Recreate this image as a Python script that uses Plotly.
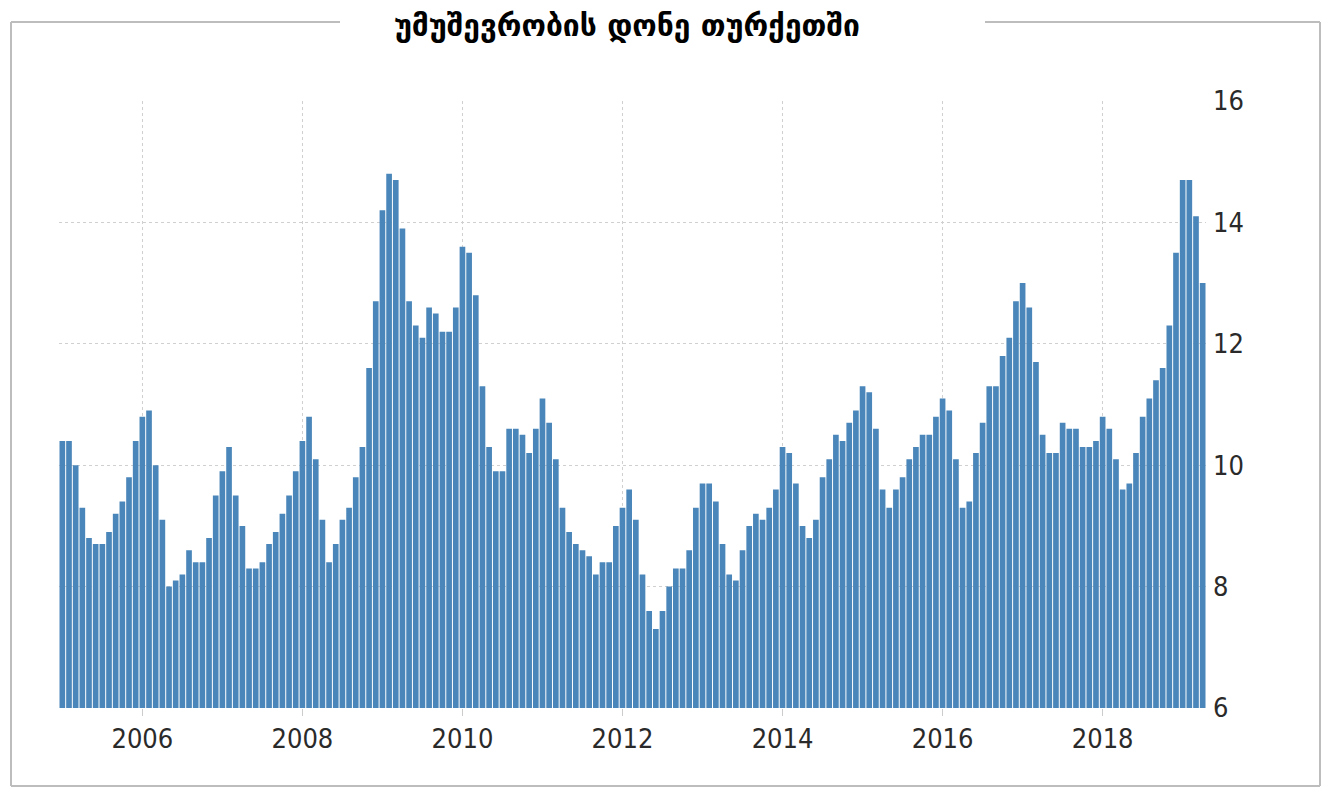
import plotly.graph_objects as go

title_text = "უმუშევრობის დონე თურქეთში"

years = [2005, 2006, 2007, 2008, 2009, 2010, 2011, 2012, 2013, 2014, 2015, 2016, 2017, 2018, 2019]

v2005 = [10.4, 10.4, 10.0, 9.3, 8.8, 8.7, 8.7, 8.9, 9.2, 9.4, 9.8, 10.4]
v2006 = [10.8, 10.9, 10.0, 9.1, 8.0, 8.1, 8.2, 8.6, 8.4, 8.4, 8.8, 9.5]
v2007 = [9.9, 10.3, 9.5, 9.0, 8.3, 8.3, 8.4, 8.7, 8.9, 9.2, 9.5, 9.9]
v2008 = [10.4, 10.8, 10.1, 9.1, 8.4, 8.7, 9.1, 9.3, 9.8, 10.3, 11.6, 12.7]
v2009 = [14.2, 14.8, 14.7, 13.9, 12.7, 12.3, 12.1, 12.6, 12.5, 12.2, 12.2, 12.6]
v2010 = [13.6, 13.5, 12.8, 11.3, 10.3, 9.9, 9.9, 10.6, 10.6, 10.5, 10.2, 10.6]
v2011 = [11.1, 10.7, 10.1, 9.3, 8.9, 8.7, 8.6, 8.5, 8.2, 8.4, 8.4, 9.0]
v2012 = [9.3, 9.6, 9.1, 8.2, 7.6, 7.3, 7.6, 8.0, 8.3, 8.3, 8.6, 9.3]
v2013 = [9.7, 9.7, 9.4, 8.7, 8.2, 8.1, 8.6, 9.0, 9.2, 9.1, 9.3, 9.6]
v2014 = [10.3, 10.2, 9.7, 9.0, 8.8, 9.1, 9.8, 10.1, 10.5, 10.4, 10.7, 10.9]
v2015 = [11.3, 11.2, 10.6, 9.6, 9.3, 9.6, 9.8, 10.1, 10.3, 10.5, 10.5, 10.8]
v2016 = [11.1, 10.9, 10.1, 9.3, 9.4, 10.2, 10.7, 11.3, 11.3, 11.8, 12.1, 12.7]
v2017 = [13.0, 12.6, 11.7, 10.5, 10.2, 10.2, 10.7, 10.6, 10.6, 10.3, 10.3, 10.4]
v2018 = [10.8, 10.6, 10.1, 9.6, 9.7, 10.2, 10.8, 11.1, 11.4, 11.6, 12.3, 13.5]
v2019 = [14.7, 14.7, 14.1, 13.0]

series = [v2005, v2006, v2007, v2008, v2009, v2010, v2011, v2012, v2013,
          v2014, v2015, v2016, v2017, v2018, v2019]

values = []
for s in series:
    values.extend(s)
idx = list(range(len(values)))

tick_years = [2006, 2008, 2010, 2012, 2014, 2016, 2018]
tick_pos = [(y - 2005) * 12 for y in tick_years]
tick_text = [str(y) for y in tick_years]
y_ticks = [6, 8, 10, 12, 14, 16]

fig = go.Figure()
fig.add_trace(go.Bar(
    x=idx, y=values,
    marker=dict(color="#4a86b9", line=dict(width=0)),
    hoverinfo="y",
))

OFF = 8  # page body margin
W, H = 1332 - OFF, 791 - OFF
# target page-pixel positions of plot area
L_page, R_page, T_page, B_page = 59, 1206, 101, 708
L = L_page - OFF
T = T_page - OFF
R = W - (R_page - OFF)
B = H - (B_page - OFF)
pw = W - L - R
ph = H - T - B


def px(xp):
    return (xp - L_page) / pw


def py(yp):
    return (B_page - yp) / ph


frame = "#bdbdbd"
shapes = [
    dict(type="line", xref="paper", yref="paper", x0=px(11), x1=px(11), y0=py(22), y1=py(786), line=dict(color=frame, width=2)),
    dict(type="line", xref="paper", yref="paper", x0=px(1320), x1=px(1320), y0=py(22), y1=py(786), line=dict(color=frame, width=2)),
    dict(type="line", xref="paper", yref="paper", x0=px(11), x1=px(1320), y0=py(786), y1=py(786), line=dict(color=frame, width=2)),
    dict(type="line", xref="paper", yref="paper", x0=px(11), x1=px(340), y0=py(22), y1=py(22), line=dict(color=frame, width=2)),
    dict(type="line", xref="paper", yref="paper", x0=px(985), x1=px(1320), y0=py(22), y1=py(22), line=dict(color=frame, width=2)),
]

tick_font = dict(family="Liberation Sans Narrow, DejaVu Sans Condensed, Roboto Condensed, Liberation Sans, Arial",
                 size=27, color="#2a2a2a")

fig.update_layout(
    width=W, height=H,
    margin=dict(l=L, r=R, t=T, b=B),
    paper_bgcolor="white",
    plot_bgcolor="white",
    bargap=0.15,
    showlegend=False,
    shapes=shapes,
    title=dict(
        text=title_text,
        x=(627 - OFF) / W, xanchor="center", xref="container",
        y=1 - (25 - OFF) / H, yanchor="middle", yref="container",
        font=dict(family="DejaVu Sans", size=30, color="black", weight="bold"),
    ),
    xaxis=dict(
        range=[-0.5, len(values) - 0.5],
        tickmode="array", tickvals=tick_pos, ticktext=tick_text,
        showgrid=True, gridcolor="#d0d0d0", griddash="dot", gridwidth=1,
        ticks="outside", ticklen=7, tickcolor="#cccccc",
        showline=False, zeroline=False,
        tickfont=tick_font,
    ),
    yaxis=dict(
        range=[6, 16], side="right",
        tickmode="array", tickvals=y_ticks,
        showgrid=True, gridcolor="#d0d0d0", griddash="dot", gridwidth=1,
        showline=False, zeroline=False,
        tickfont=tick_font,
        ticks="", ticklabelstandoff=6,
    ),
)

fig.write_html("out.html")
